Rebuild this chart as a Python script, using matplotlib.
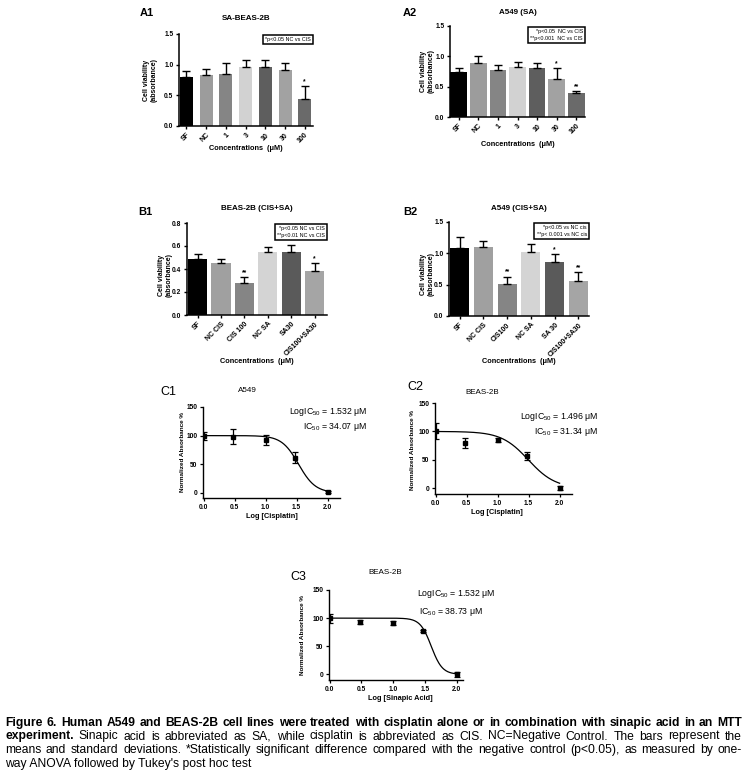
import numpy as np
import matplotlib
matplotlib.use("Agg")
import matplotlib.pyplot as plt

plt.rcParams['font.family'] = ['Liberation Sans', 'DejaVu Sans']
plt.rcParams['mathtext.default'] = 'regular'

W, H = 750, 779

# ---- bar chart data ----
a1_labels = ['SF', 'NC', '1', '3', '10', '30', '100']
a1_vals = [0.80, 0.83, 0.85, 0.96, 0.96, 0.92, 0.44]
a1_err = [0.09, 0.10, 0.17, 0.11, 0.12, 0.11, 0.21]
a1_stars = ['', '', '', '', '', '', '*']

a2_labels = ['SF', 'NC', '1', '3', '10', '30', '100']
a2_vals = [0.75, 0.89, 0.78, 0.82, 0.81, 0.62, 0.39]
a2_err = [0.06, 0.11, 0.08, 0.08, 0.08, 0.18, 0.04]
a2_stars = ['', '', '', '', '', '*', '**']

b1_labels = ['SF', 'NC CIS', 'CIS 100', 'NC SA', 'SA30', 'CIS100+SA30']
b1_vals = [0.49, 0.45, 0.28, 0.545, 0.545, 0.38]
b1_err = [0.04, 0.04, 0.05, 0.045, 0.065, 0.07]
b1_stars = ['', '', '**', '', '', '*']

b2_labels = ['SF', 'NC CIS', 'CIS100', 'NC SA', 'SA 30', 'CIS100+SA30']
b2_vals = [1.08, 1.10, 0.51, 1.02, 0.86, 0.56]
b2_err = [0.18, 0.10, 0.12, 0.13, 0.13, 0.14]
b2_stars = ['', '', '**', '', '*', '**']

a_colors = ['#000000', '#9c9c9c', '#858585', '#d2d2d2', '#5e5e5e', '#a2a2a2', '#6a6a6a']
b_colors = ['#000000', '#a0a0a0', '#858585', '#d4d4d4', '#5a5a5a', '#a5a5a5']

# ---- dose response data ----
log_dose = [0.0, 0.477, 1.0, 1.477, 2.0]
c1_resp = [100, 98, 92, 61.5, 1]
c1_err = [7, 13, 9, 10, 2]
c2_resp = [100, 80, 85, 56.5, 0.6]
c2_err = [14, 9, 4, 6.5, 4]
c3_resp = [100, 93, 91, 77, 0]
c3_err = [8, 4, 4, 1.5, 5]
# fitted curve parameters (logIC50, hill slope)
c1_fit = [1.532, 3.2]
c2_fit = [1.496, 2.0]
c3_fit = [1.60, 5.0]

fig = plt.figure(figsize=(W / 100, H / 100), dpi=100)


def add_ax(left, top, right, bottom):
    return fig.add_axes([left / W, 1 - bottom / H, (right - left) / W, (bottom - top) / H])


def ftext(x, y, s, **kw):
    return fig.text(x / W, 1 - y / H, s, **kw)


def bar_panel(box, labels, vals, errs, stars, colors, width, xlim, ylim, yticks, fmt):
    ax = add_ax(*box)
    x = np.arange(len(vals))
    ax.bar(x, vals, width=width, color=colors, zorder=2)
    ax.errorbar(x, vals, yerr=[np.zeros(len(vals)), errs], fmt='none', ecolor='black',
                elinewidth=1.0, capsize=2.6, capthick=1.0, zorder=3)
    for xi, v, e, s in zip(x, vals, errs, stars):
        if s:
            ax.text(xi, v + e + (ylim[1] - ylim[0]) * 0.01, s, ha='center', va='bottom',
                    fontsize=4.8, fontweight='bold')
    ax.set_xlim(*xlim)
    ax.set_ylim(*ylim)
    ax.set_yticks(yticks)
    ax.set_yticklabels([fmt % t for t in yticks], fontsize=4.8, fontweight='bold')
    ax.set_xticks(x)
    ax.set_xticklabels(labels, rotation=45, ha='right', rotation_mode='anchor',
                       fontsize=5.0, fontweight='bold')
    for side in ['top', 'right']:
        ax.spines[side].set_visible(False)
    for side in ['left', 'bottom']:
        ax.spines[side].set_linewidth(1.1)
    ax.tick_params(width=1.0, length=2.5, pad=1.5)
    return ax


def legend_box(ax, text, fs=3.9):
    ax.text(0.985, 0.965, text, transform=ax.transAxes, ha='right', va='top', fontsize=fs,
            linespacing=1.5,
            bbox=dict(boxstyle='square,pad=0.4', fc='white', ec='black', lw=1.1))


# A1
ax = bar_panel((179, 34, 313, 126), a1_labels, a1_vals, a1_err, a1_stars, a_colors,
               0.66, (-0.38, 6.42), (0, 1.5), [0, 0.5, 1.0, 1.5], '%.1f')
legend_box(ax, '*p<0.05 NC vs CIS')
ftext(140, 13, 'A1', fontsize=8, fontweight='bold', ha='left', va='center')
ftext(246, 19, 'SA-BEAS-2B', fontsize=5.8, fontweight='bold', ha='center', va='center')
ftext(150, 80, 'Cell viability\n(absorbance)', fontsize=5, fontweight='bold', rotation=90,
      ha='center', va='center', linespacing=1.1)
ftext(246, 148, 'Concentrations  (\u03bcM)', fontsize=5.3, fontweight='bold', ha='center', va='center')

# A2
ax = bar_panel((450, 26, 585, 117), a2_labels, a2_vals, a2_err, a2_stars, a_colors,
               0.85, (-0.45, 6.45), (0, 1.5), [0, 0.5, 1.0, 1.5], '%.1f')
legend_box(ax, '*p<0.05  NC vs CIS\n**p<0.001  NC vs CIS')
ftext(403, 13, 'A2', fontsize=8, fontweight='bold', ha='left', va='center')
ftext(518, 12, 'A549 (SA)', fontsize=5.8, fontweight='bold', ha='center', va='center')
ftext(427, 71, 'Cell viability\n(absorbance)', fontsize=5, fontweight='bold', rotation=90,
      ha='center', va='center', linespacing=1.1)
ftext(518, 144, 'Concentrations  (\u03bcM)', fontsize=5.3, fontweight='bold', ha='center', va='center')

# B1
ax = bar_panel((187, 223, 327, 315), b1_labels, b1_vals, b1_err, b1_stars, b_colors,
               0.82, (-0.45, 5.53), (0, 0.8), [0, 0.2, 0.4, 0.6, 0.8], '%.1f')
legend_box(ax, '*p<0.05 NC vs CIS\n**p<0.01 NC vs CIS')
ftext(138, 212, 'B1', fontsize=8, fontweight='bold', ha='left', va='center')
ftext(257, 209, 'BEAS-2B (CIS+SA)', fontsize=5.8, fontweight='bold', ha='center', va='center')
ftext(165, 275, 'Cell viability\n(absorbance)', fontsize=5, fontweight='bold', rotation=90,
      ha='center', va='center', linespacing=1.1)
ftext(257, 362, 'Concentrations  (\u03bcM)', fontsize=5.3, fontweight='bold', ha='center', va='center')

# B2
ax = bar_panel((449, 222, 589, 316), b2_labels, b2_vals, b2_err, b2_stars, b_colors,
               0.8, (-0.45, 5.45), (0, 1.5), [0, 0.5, 1.0, 1.5], '%.1f')
legend_box(ax, '*p<0.05 vs NC cis\n**p< 0.001 vs NC cis')
ftext(403, 212, 'B2', fontsize=8, fontweight='bold', ha='left', va='center')
ftext(519, 209, 'A549 (CIS+SA)', fontsize=5.8, fontweight='bold', ha='center', va='center')
ftext(427, 274, 'Cell viability\n(absorbance)', fontsize=5, fontweight='bold', rotation=90,
      ha='center', va='center', linespacing=1.1)
ftext(519, 362, 'Concentrations  (\u03bcM)', fontsize=5.3, fontweight='bold', ha='center', va='center')


def dose_panel(box, resp, err, fit, xlim, ylim):
    ax = add_ax(*box)
    xs = np.linspace(0, 2.0, 200)
    ax.plot(xs, 100 / (1 + 10 ** ((xs - fit[0]) * fit[1])), color='black', lw=0.9)
    ax.errorbar(log_dose, resp, yerr=err, fmt='s', ms=2.2, color='black', ecolor='black',
                elinewidth=0.9, capsize=2.0, capthick=0.9)
    ax.set_xlim(*xlim)
    ax.set_ylim(*ylim)
    ax.set_xticks([0, 0.5, 1.0, 1.5, 2.0])
    ax.set_xticklabels(['0.0', '0.5', '1.0', '1.5', '2.0'], fontsize=4.8, fontweight='bold')
    ax.set_yticks([0, 50, 100, 150])
    ax.set_yticklabels(['0', '50', '100', '150'], fontsize=4.8, fontweight='bold')
    for side in ['top', 'right']:
        ax.spines[side].set_visible(False)
    for side in ['left', 'bottom']:
        ax.spines[side].set_linewidth(1.0)
    ax.tick_params(width=0.9, length=2.5, pad=1.5)
    return ax


ic_fs = 6.3

# C1
dose_panel((203, 407, 340, 498), c1_resp, c1_err, c1_fit, (-0.01, 2.2), (-9, 150))
ftext(160, 392, 'C1', fontsize=9, ha='left', va='center')
ftext(247, 390, 'A549', fontsize=5.8, ha='center', va='center')
ftext(367, 412, 'LogIC$_{50}$ = 1.532 \u03bcM', fontsize=ic_fs, ha='right', va='center')
ftext(367, 427, 'IC$_{50}$ = 34.07 \u03bcM', fontsize=ic_fs, ha='right', va='center')
ftext(182, 452, 'Normalized Absorbance %', fontsize=4.6, fontweight='bold', rotation=90,
      ha='center', va='center')
ftext(272, 516, 'Log [Cisplatin]', fontsize=5.3, fontweight='bold', ha='center', va='center')

# C2
dose_panel((435, 403, 572, 494), c2_resp, c2_err, c2_fit, (-0.01, 2.2), (-10, 150))
ftext(407, 387, 'C2', fontsize=9, ha='left', va='center')
ftext(482, 393, 'BEAS-2B', fontsize=5.8, ha='center', va='center')
ftext(598, 417, 'LogIC$_{50}$ = 1.496 \u03bcM', fontsize=ic_fs, ha='right', va='center')
ftext(598, 432, 'IC$_{50}$ = 31.34 \u03bcM', fontsize=ic_fs, ha='right', va='center')
ftext(413, 450, 'Normalized Absorbance %', fontsize=4.6, fontweight='bold', rotation=90,
      ha='center', va='center')
ftext(497, 513, 'Log [Cisplatin]', fontsize=5.3, fontweight='bold', ha='center', va='center')

# C3
dose_panel((329, 590, 463, 680), c3_resp, c3_err, c3_fit, (-0.01, 2.1), (-10, 150))
ftext(290, 577, 'C3', fontsize=9, ha='left', va='center')
ftext(385, 573, 'BEAS-2B', fontsize=5.8, ha='center', va='center')
ftext(495, 594, 'LogIC$_{50}$ = 1.532 \u03bcM', fontsize=ic_fs, ha='right', va='center')
ftext(483, 612, 'IC$_{50}$ = 38.73 \u03bcM', fontsize=ic_fs, ha='right', va='center')
ftext(303, 635, 'Normalized Absorbance %', fontsize=4.6, fontweight='bold', rotation=90,
      ha='center', va='center')
ftext(400, 698, 'Log [Sinapic Acid]', fontsize=5.3, fontweight='bold', ha='center', va='center')

# ---- caption (justified) ----
cap_fs = 8.7
cap_lines = [
    ("Figure 6. Human A549 and BEAS-2B cell lines were treated with cisplatin alone or in combination with sinapic acid in an MTT", "", True),
    ("experiment.", "Sinapic acid is abbreviated as SA, while cisplatin is abbreviated as CIS. NC=Negative Control. The bars represent the", True),
    ("", "means and standard deviations. *Statistically significant difference compared with the negative control (p<0.05), as measured by one-", True),
    ("", "way ANOVA followed by Tukey's post hoc test", False),
]
cap_y = [723, 736.5, 750, 763.5]
renderer = fig.canvas.get_renderer()
for (bold_part, norm_part, justify), y in zip(cap_lines, cap_y):
    if not justify:
        ftext(5, y, norm_part, fontsize=cap_fs, ha='left', va='center')
        continue
    words = [(w, 'bold') for w in bold_part.split()] + [(w, 'normal') for w in norm_part.split()]
    objs = [ftext(0, y, w, fontsize=cap_fs, fontweight=wt, ha='left', va='center') for w, wt in words]
    widths = [o.get_window_extent(renderer).width for o in objs]
    gap = max((742 - 5 - sum(widths)) / (len(objs) - 1), 1.5)
    xpos = 5
    for o, wd in zip(objs, widths):
        o.set_x(xpos / W)
        xpos += wd + gap

fig.savefig('out.png', dpi=100)
